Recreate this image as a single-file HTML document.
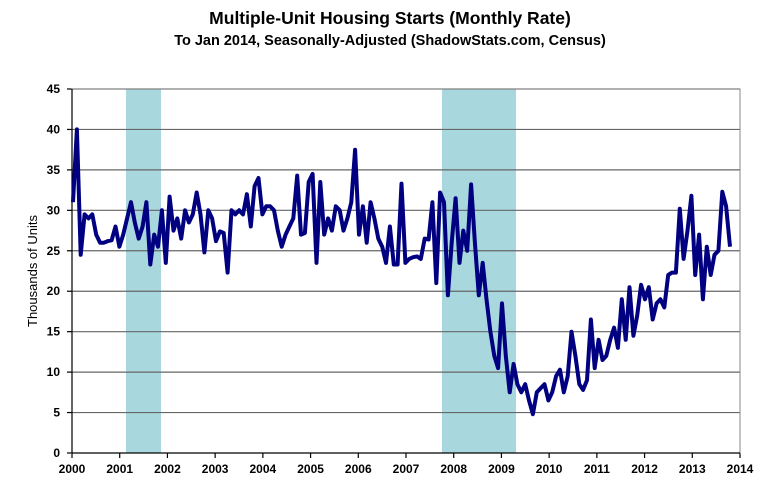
<!DOCTYPE html>
<html><head><meta charset="utf-8"><style>
body{margin:0;background:#fff;}
svg{display:block;font-family:"Liberation Sans",Arial,sans-serif;}
</style></head><body>
<svg id="s" width="763" height="501" viewBox="0 0 763 501" xmlns="http://www.w3.org/2000/svg">
<rect width="763" height="501" fill="#fff"/>
<text x="390" y="24" text-anchor="middle" font-size="17.5" font-weight="bold">Multiple-Unit Housing Starts (Monthly Rate)</text>
<text x="390" y="45" text-anchor="middle" font-size="14.5" font-weight="bold">To Jan 2014, Seasonally-Adjusted (ShadowStats.com, Census)</text>
<rect x="126" y="89" width="35" height="364" fill="#a8d8de"/>
<rect x="442" y="89" width="74" height="364" fill="#a8d8de"/>
<g id="grid" stroke="#666" stroke-width="1.2"></g>
<rect x="72" y="89" width="668" height="364" fill="none" stroke="#888" stroke-width="1"/>
<line x1="72" y1="89" x2="72" y2="453" stroke="#000" stroke-width="1.2"/>
<line x1="72" y1="453" x2="740" y2="453" stroke="#000" stroke-width="1.2"/>
<g id="lab" font-size="12" font-weight="bold" fill="#000"></g>
<text transform="translate(37,271) rotate(-90)" text-anchor="middle" font-size="13">Thousands of Units</text>
<polyline id="ln" fill="none" stroke="#000080" stroke-width="4" stroke-linejoin="round"/>
</svg>
<script>
var d=[31,40,24.5,29.5,29,29.5,27,26,26,26.2,26.3,28,
25.5,27,29,31,28.5,26.5,28,31,23.3,27,25.5,30,
23.5,31.7,27.5,29,26.5,30,28.5,29.5,32.2,29.5,24.8,30,
29,26.2,27.4,27.2,22.3,30,29.5,30,29.5,32,28,33,
34,29.5,30.5,30.5,30,27.5,25.5,27,28,29,34.3,27,
27.2,33.5,34.5,23.5,33.5,27,29,27.5,30.5,30,27.5,29,
31,37.5,27,30.5,26,31,29,26.5,25.5,23.5,28,23.3,
23.3,33.3,23.5,24,24.2,24.3,24,26.5,26.4,31,21,32.2,
31,19.5,26,31.5,23.5,27.5,25,33.2,26,19.5,23.5,19,
15,12,10.5,18.5,12,7.5,11,8.5,7.5,8.5,6.5,4.8,
7.5,8,8.5,6.5,7.5,9.5,10.3,7.5,9.5,15,12,8.5,
7.8,9,16.5,10.5,14,11.5,12,14,15.5,13,19,14,
20.5,14.5,17,20.8,19,20.5,16.5,18.5,19,18,22,22.3,
22.3,30.2,24,27.5,31.8,22,27,19,25.5,22,24.5,25,
32.3,30.5,25.5];
var n=d.length,p=[];
for(var i=0;i<n;i++){p.push((73+i*657/(n-1)).toFixed(1)+","+(453-d[i]*364/45).toFixed(1));}
document.getElementById("ln").setAttribute("points",p.join(" "));
var g=document.getElementById("grid"),l=document.getElementById("lab"),ns="http://www.w3.org/2000/svg";
for(var v=0;v<=45;v+=5){var y=453-v*364/45;
 if(v>0){var e=document.createElementNS(ns,"line");e.setAttribute("x1",72);e.setAttribute("x2",740);e.setAttribute("y1",y);e.setAttribute("y2",y);g.appendChild(e);}
 var t=document.createElementNS(ns,"line");t.setAttribute("x1",67);t.setAttribute("x2",72);t.setAttribute("y1",y);t.setAttribute("y2",y);t.setAttribute("stroke","#000");g.appendChild(t);
 var tx=document.createElementNS(ns,"text");tx.setAttribute("x",60);tx.setAttribute("y",y+4);tx.setAttribute("text-anchor","end");tx.textContent=v;l.appendChild(tx);}
for(var k=0;k<=14;k++){var x=72+k*668/14;
 var t2=document.createElementNS(ns,"line");t2.setAttribute("x1",x);t2.setAttribute("x2",x);t2.setAttribute("y1",453);t2.setAttribute("y2",458);t2.setAttribute("stroke","#000");g.appendChild(t2);
 var tx2=document.createElementNS(ns,"text");tx2.setAttribute("x",x);tx2.setAttribute("y",473);tx2.setAttribute("text-anchor","middle");tx2.textContent=2000+k;l.appendChild(tx2);}
</script>
</body></html>
